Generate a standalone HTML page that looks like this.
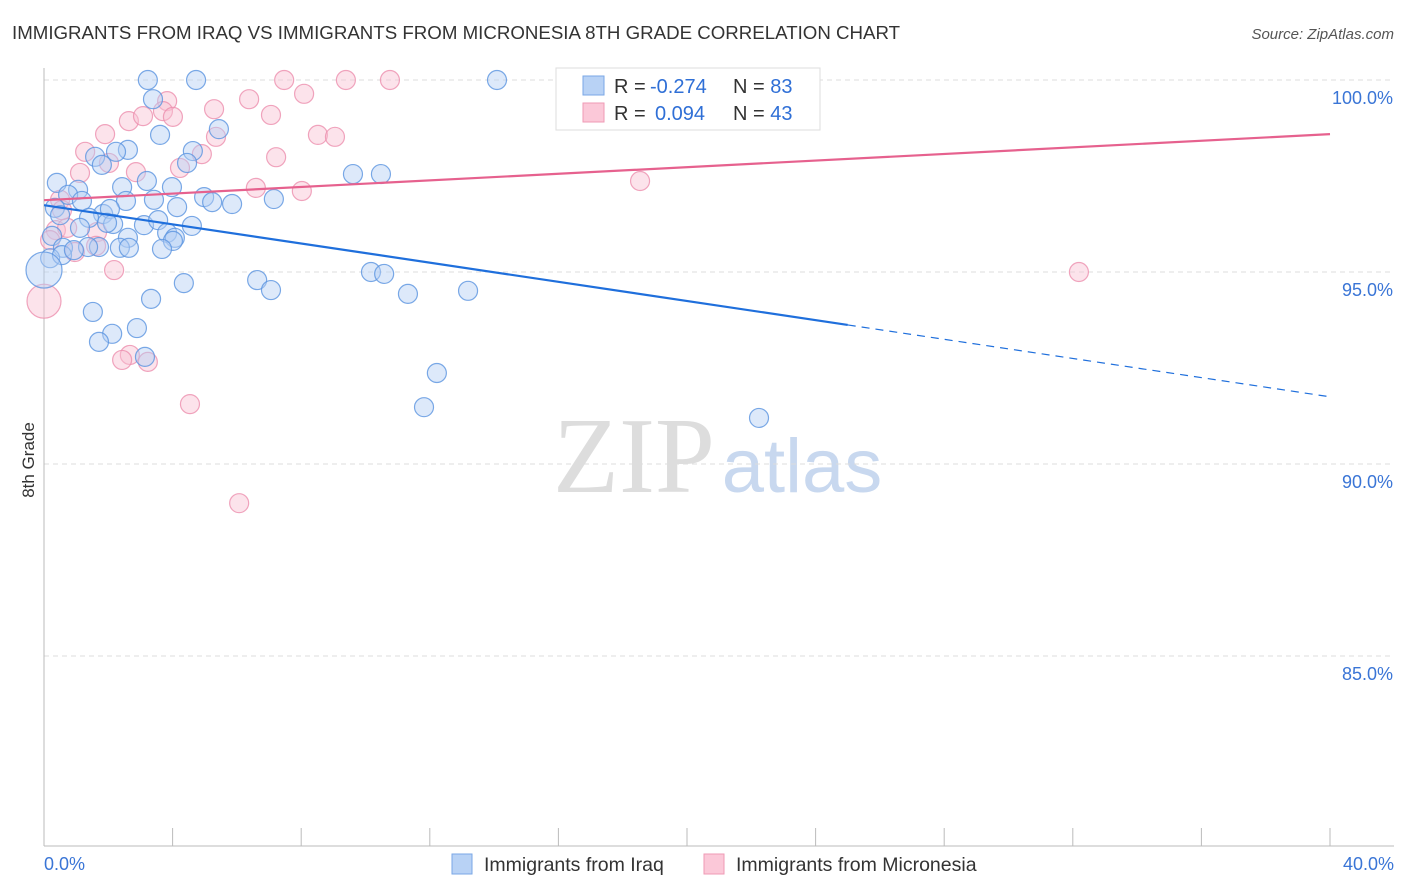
<!DOCTYPE html>
<html><head><meta charset="utf-8">
<style>
body{margin:0;background:#fff;font-family:"Liberation Sans",sans-serif;}
#wrap{position:relative;width:1406px;height:892px;overflow:hidden;}
</style></head>
<body><div id="wrap">
<svg id="svg" width="1406" height="892">
<text x="12" y="39" font-size="18.7" fill="#333">IMMIGRANTS FROM IRAQ VS IMMIGRANTS FROM MICRONESIA 8TH GRADE CORRELATION CHART</text>
<text x="1394" y="39" font-size="15" fill="#555" font-style="italic" text-anchor="end">Source: ZipAtlas.com</text>
<text x="34" y="460" font-size="17" fill="#333" text-anchor="middle" transform="rotate(-90 34 460)">8th Grade</text>
<text x="634" y="492" font-size="108" fill="#ddd" font-family="Liberation Serif,serif" text-anchor="middle">ZIP</text>
<text x="802" y="492" font-size="76" fill="#c8d8ef" text-anchor="middle">atlas</text>
<g id="grid"></g><g id="pts"></g><g id="lines"></g>
<g>
<rect x="556" y="68" width="264" height="62" fill="#fff" stroke="#ddd"/>
<rect x="583" y="76" width="21" height="19" fill="#b8d2f5" stroke="#7aa7e6"/>
<rect x="583" y="103" width="21" height="19" fill="#fbc8d8" stroke="#ef9ab5"/>
<text x="614" y="93" font-size="20" fill="#333">R = <tspan fill="#2f6fd6" x="650">-0.274</tspan><tspan x="733">N = </tspan><tspan fill="#2f6fd6">83</tspan></text>
<text x="614" y="120" font-size="20" fill="#333">R = <tspan fill="#2f6fd6" x="655">0.094</tspan><tspan x="733">N = </tspan><tspan fill="#2f6fd6">43</tspan></text>
</g>
<g>
<rect x="452" y="854" width="20" height="20" fill="#b8d2f5" stroke="#7aa7e6"/>
<text x="484" y="871" font-size="19.5" fill="#333">Immigrants from Iraq</text>
<rect x="704" y="854" width="20" height="20" fill="#fbc8d8" stroke="#ef9ab5"/>
<text x="736" y="871" font-size="19.5" fill="#333">Immigrants from Micronesia</text>
</g>
</svg></div>
<script>
const blueX=[3.23,4.73,14.09,3.39,5.44,3.61,2.61,2.24,1.59,4.63,4.45,1.80,9.61,10.48,0.40,2.43,3.20,3.98,1.06,0.75,4.98,7.15,5.85,0.34,1.18,2.55,3.42,5.23,4.14,1.84,2.05,1.40,0.50,2.15,3.11,4.60,3.55,1.96,0.25,1.12,2.61,3.83,4.07,2.36,2.64,4.01,3.67,1.71,0.59,1.37,0.19,0.56,0.93,10.17,10.58,6.63,4.35,7.06,11.32,13.19,3.33,1.52,2.89,2.12,1.71,3.14,12.22,11.82,22.24,0];
const blueY=[100,100,100,99.5,98.72,98.57,98.18,98.13,98.0,98.15,97.84,97.79,97.55,97.55,97.32,97.21,97.37,97.21,97.14,97.01,96.95,96.90,96.77,96.67,96.85,96.85,96.88,96.82,96.69,96.51,96.64,96.41,96.48,96.25,96.22,96.20,96.35,96.28,95.94,96.15,95.89,96.02,95.89,95.63,95.63,95.81,95.60,95.65,95.63,95.65,95.36,95.44,95.57,95.0,94.95,94.79,94.71,94.53,94.43,94.51,94.30,93.96,93.54,93.39,93.18,92.79,92.37,91.48,91.20,95.05];
const pinkX=[7.47,9.39,10.76,6.38,8.09,3.83,5.29,2.64,3.08,3.70,4.01,7.06,1.90,5.35,8.52,9.05,1.28,4.91,2.02,7.22,4.23,1.12,2.86,6.59,8.02,18.54,0.50,0.37,0.72,1.65,1.62,0.96,2.18,32.19,2.67,2.43,3.23,4.54,6.07,0.19,0.56,0];
const pinkY=[100,100,100,99.5,99.64,99.45,99.24,98.93,99.06,99.19,99.04,99.09,98.59,98.52,98.57,98.52,98.13,98.07,97.84,97.99,97.71,97.58,97.60,97.19,97.11,97.37,96.88,96.09,96.15,96.04,95.68,95.52,95.05,95.0,92.84,92.71,92.66,91.56,88.98,95.83,96.61,94.24];
const blueTrend=[96.74,91.75];
const pinkTrend=[96.87,98.59];
const yTicks=[100,95,90,85];
const NS="http://www.w3.org/2000/svg";
const sx=v=>44+v/40*1286, sy=v=>80+(100-v)*38.4;
function mk(tag,a,p){const e=document.createElementNS(NS,tag);for(const k in a)e.setAttribute(k,a[k]);p.appendChild(e);return e;}
const grid=document.getElementById('grid');
yTicks.forEach(t=>{
 const l=mk('line',{x1:44,x2:1394,y1:sy(t),y2:sy(t),stroke:'#ddd','stroke-dasharray':'5,4'},grid);
 
 
 const tx=mk('text',{x:1393,y:sy(t)+24,'font-size':18,fill:'#3a75d6','text-anchor':'end'},grid);
 tx.textContent=t.toFixed(1)+'%';
 
 
});
const ax=mk('line',{x1:44,x2:44,y1:68,y2:846,stroke:'#bbb'},grid);


const bx=mk('line',{x1:44,x2:1394,y1:846,y2:846,stroke:'#bbb'},grid);


for(let i=0;i<=10;i++){const t=mk('line',{x1:sx(i*4),x2:sx(i*4),y1:828,y2:846,stroke:'#bbb'},grid);
 
 }
[[0,'0.0%','start',44],[40,'40.0%','end',1394]].forEach(d=>{const t=mk('text',{x:d[3],y:870,'font-size':18,fill:'#3a75d6','text-anchor':d[2]},grid);t.textContent=d[1];
 
 });
const pts=document.getElementById('pts');
function draw(X,Y,fill,stroke,name){X.forEach((x,i)=>{const r=(x===0)?(name==='iraq-point'?18:17):9.5;
 const c=mk('circle',{cx:sx(x),cy:sy(Y[i]),r:r,fill:fill,'fill-opacity':0.45,stroke:stroke,'stroke-opacity':0.8,'stroke-width':1.2},pts);
 
 });}
draw(pinkX,pinkY,'#f9c0d2','#ec8fae','micronesia-point');
draw(blueX,blueY,'#b3cff3','#5a93e0','iraq-point');
const lines=document.getElementById('lines');
const bAt=x=>blueTrend[0]+(blueTrend[1]-blueTrend[0])*x/40;
const l1=mk('line',{x1:sx(0),y1:sy(bAt(0)),x2:sx(25),y2:sy(bAt(25)),stroke:'#1f6fdc','stroke-width':2.2},lines);


const l2=mk('line',{x1:sx(25),y1:sy(bAt(25)),x2:sx(40),y2:sy(bAt(40)),stroke:'#1f6fdc','stroke-width':1.2,'stroke-dasharray':'8,6'},lines);


const l3=mk('line',{x1:sx(0),y1:sy(pinkTrend[0]),x2:sx(40),y2:sy(pinkTrend[1]),stroke:'#e6618e','stroke-width':2.2},lines);


</script>
</body></html>
